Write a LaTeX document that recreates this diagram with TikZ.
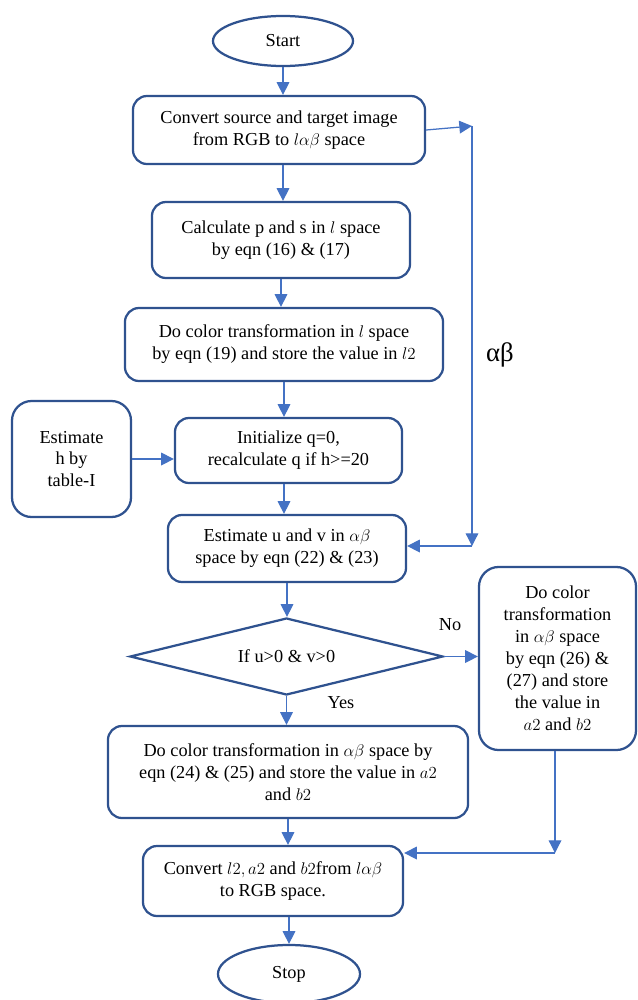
\documentclass[tikz,border=0pt]{standalone}
\usepackage{fontspec}
\setmainfont{Liberation Serif}
\usetikzlibrary{shapes.geometric,arrows.meta}
\definecolor{boxblue}{HTML}{2F528F}
\definecolor{linkblue}{HTML}{4472C4}
\tikzset{
  procbox/.style={draw=boxblue, line width=1.6pt, rounded corners=10pt, align=center, inner sep=2pt},
  termbox/.style={draw=boxblue, line width=1.6pt, ellipse, inner sep=0pt},
  testbox/.style={draw=boxblue, line width=1.6pt, diamond, aspect=4, inner sep=0pt},
  link/.style={draw=linkblue, line width=0.9pt, -{Triangle[length=9pt,width=9pt]}}
}
\begin{document}
\begin{tikzpicture}[x=0.025cm, y=-0.025cm, font=\fontsize{13}{15.6}\selectfont]
\useasboundingbox (0,0) rectangle (638,1000);
\begin{scope}
\path (283,41)  node[termbox, minimum width=3.5cm, minimum height=1.25cm] (start) {Start};
\path (279,130)  node[procbox, minimum width=7.3cm, minimum height=1.7cm] (conv) {Convert source and target image\\from RGB to $l\alpha\beta$ space};
\path (281,240)  node[procbox, minimum width=6.45cm, minimum height=1.9cm] (calc) {Calculate p and s in $l$ space\\by eqn (16) \& (17)};
\path (284,344.5)  node[procbox, minimum width=7.95cm, minimum height=1.825cm] (ltrans) {Do color transformation in $l$ space\\by eqn (19) and store the value in $l2$};
\path (288.5,450.5)  node[procbox, minimum width=5.675cm, minimum height=1.625cm] (init) {Initialize q=0,\\recalculate q if h>=20};
\path (71.5,459)  node[procbox, rounded corners=14pt, minimum width=2.975cm, minimum height=2.9cm] (esth) {Estimate\\h by\\table-I};
\path (287,548.5)  node[procbox, minimum width=5.95cm, minimum height=1.675cm] (estuv) {Estimate u and v in $\alpha\beta$\\space by eqn (22) \& (23)};
\path (286.5,656.5)  node[testbox, minimum width=7.825cm, minimum height=1.925cm] (test) {If u>0 \& v>0};
\path (557.5,658.5)  node[procbox, rounded corners=14pt, minimum width=3.925cm, minimum height=4.575cm] (notrans) {Do color\\transformation\\in $\alpha\beta$ space\\by eqn (26) \&\\(27) and store\\the value in\\$a2$ and $b2$};
\path (288,772)  node[procbox, minimum width=9cm, minimum height=2.3cm] (yestrans) {Do color transformation in $\alpha\beta$ space by\\eqn (24) \& (25) and store the value in $a2$\\and $b2$};
\path (273,881)  node[procbox, minimum width=6.5cm, minimum height=1.75cm] (back) {Convert $l2, a2$ and $b2$from $l\alpha\beta$\\to RGB space.};
\path (289,974)  node[termbox, minimum width=3.55cm, minimum height=1.45cm] (stop) {Stop};
\path (500,355)  node[font=\fontsize{19}{22}\selectfont] (ablabel) {αβ};
\path (450,625)  node (nolabel) {No};
\path (341,703)  node (yeslabel) {Yes};
\coordinate (abtop) at (472,126);
\coordinate (abbot) at (472,546);
\coordinate (nojoin) at (555,853);
\end{scope}
\draw[link] (start.south) -- (start.south |- conv.north);
\draw[link] (conv.south -| start.south) -- (start.south |- calc.north);
\draw[link] (calc.south) -- (calc.south |- ltrans.north);
\draw[link] (ltrans.south) -- (ltrans.south |- init.north);
\draw[link] (init.south -| ltrans.south) -- (ltrans.south |- estuv.north);
\draw[link] (esth.east) -- (esth.east -| init.west);
\draw[link] (estuv.south) -- (estuv.south |- test.north);
\draw[link] (test.south) -- (test.south |- yestrans.north);
\draw[link] (yestrans.south) -- (yestrans.south |- back.north);
\draw[link] (back.south -| stop.north) -- (stop.north);
\draw[link] (test.east) -- (test.east -| notrans.west);
\draw[link] (conv.east) -- (abtop);
\draw[link] (abtop) -- (abbot);
\draw[link] (abbot) -- (abbot -| estuv.east);
\draw[link] (notrans.south -| nojoin) -- (nojoin);
\draw[link] (nojoin) -- (nojoin -| back.east);
\end{tikzpicture}
\end{document}
